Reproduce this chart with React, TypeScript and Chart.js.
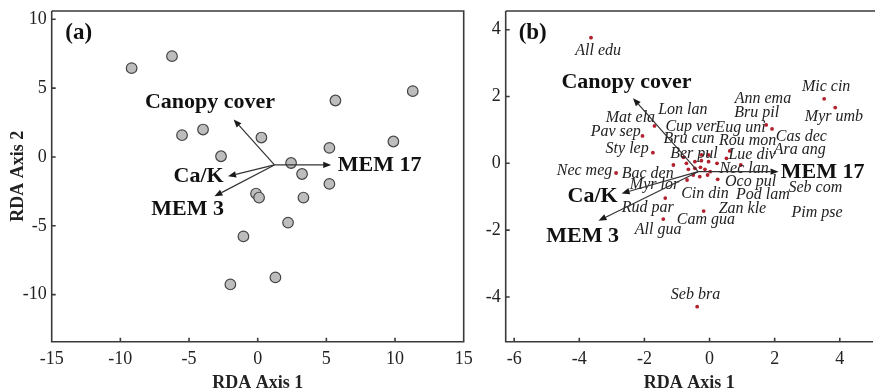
import React, { useEffect, useRef } from 'react';
import { Chart, registerables } from 'chart.js';

Chart.register(...registerables);

const FONT = "'Liberation Serif', 'Times New Roman', serif";
const INK = '#222222';
const AXIS = '#3a3a3a';

// ---------- Panel (a): site scores ----------
const A_X_TICKS = [-15, -10, -5, 0, 5, 10, 15];
const A_Y_TICKS = [-10, -5, 0, 5, 10];
const SITE_X = [-9.18, -6.24, -5.51, -3.98, -2.67, 0.27, 2.43, 3.23, 5.22, 5.66, 11.29, 9.88, 5.22, 3.33, -0.12, 0.1, 2.21, -1.04, 1.29, -1.99];
const SITE_Y = [6.45, 7.32, 1.58, 1.99, 0.05, 1.41, -0.44, -1.24, 0.66, 4.1, 4.78, 1.12, -1.96, -2.95, -2.66, -2.95, -4.77, -5.77, -8.75, -9.26];

const ENV_NAMES = ['Canopy cover', 'MEM 17', 'Ca/K', 'MEM 3'];
const ENV_ALIGN = ['center', 'left', 'center', 'center'];
const A_ENV_ORIGIN = [1.22, -0.58];
const A_ENV_X = [-1.75, 5.35, -2.16, -3.15];
const A_ENV_Y = [2.72, -0.58, -1.4, -2.86];
const A_LABEL_X = [-3.47, 5.83, -4.3, -5.1];
const A_LABEL_Y = [3.96, -0.63, -1.38, -3.83];

// ---------- Panel (b): species scores ----------
const B_X_TICKS = [-6, -4, -2, 0, 2, 4];
const B_Y_TICKS = [-4, -2, 0, 2, 4];
const DOT_X = [-3.64, 3.52, 3.86, -1.69, -2.06, -1.74, -2.87, 1.92, 1.74, -1.36, -1.42, -0.18, -0.38, 0.62, 0.52, 0.96, 0.25,
  -1.11, -0.71, -0.45, -0.25, -0.03, 0.23, -0.65, -0.45, -0.28, -0.14, 0.02, -0.5, -0.3, -0.06, -0.69, -0.25, -0.03, -0.8];
const DOT_Y = [3.76, 1.93, 1.67, 1.12, 0.82, 0.32, -0.29, 1.03, 1.15, -1.04, -1.67, -1.43, -4.29, 0.37, 0.15, -0.05, -0.48,
  -0.05, 0.0, 0.05, 0.08, 0.05, 0.0, -0.18, -0.15, -0.12, -0.18, -0.25, -0.35, -0.4, -0.35, -0.5, 0.25, 0.25, 0.18];

const SPECIES = ['All edu', 'Mic cin', 'Ann ema', 'Myr umb', 'Lon lan', 'Bru pil', 'Mat ela', 'Cup ver', 'Eug uni', 'Pav sep',
  'Cas dec', 'Bru cun', 'Rou mon', 'Sty lep', 'Ara ang', 'Ber pul', 'Lue div', 'Nec meg', 'Nec lan', 'Bac den', 'Myr lor',
  'Oco pul', 'Seb com', 'Cin din', 'Pod lam', 'Rud par', 'Zan kle', 'Pim pse', 'Cam gua', 'All gua', 'Seb bra'];
const SP_LABEL_X = [-3.42, 3.58, 1.64, 3.82, -0.82, 1.45, -2.43, -0.57, 0.95, -2.88, 2.82, -0.63, 1.17, -2.53, 2.77, -0.48,
  1.31, -3.84, 1.06, -1.9, -1.69, 1.26, 3.25, -0.14, 1.64, -1.9, 1.01, 3.3, -0.11, -1.58, -0.43];
const SP_LABEL_Y = [3.37, 2.29, 1.93, 1.38, 1.6, 1.5, 1.35, 1.08, 1.07, 0.93, 0.8, 0.72, 0.68, 0.43, 0.4, 0.28, 0.25, -0.22,
  -0.17, -0.3, -0.63, -0.55, -0.73, -0.9, -0.93, -1.32, -1.37, -1.47, -1.7, -1.98, -3.94];

const B_ENV_ORIGIN = [-0.35, -0.25];
const B_ENV_X = [-2.35, 2.12, -2.7, -3.41];
const B_ENV_Y = [1.95, -0.25, -0.9, -1.72];
const B_LABEL_X = [-2.55, 2.19, -3.59, -3.9];
const B_LABEL_Y = [2.44, -0.27, -1.0, -2.18];

function arrow(ctx: CanvasRenderingContext2D, x0: number, y0: number, x1: number, y1: number) {
  const ang = Math.atan2(y1 - y0, x1 - x0);
  const len = 8;
  const half = 3.2;
  const bx = x1 - len * Math.cos(ang);
  const by = y1 - len * Math.sin(ang);
  ctx.beginPath();
  ctx.moveTo(x0, y0);
  ctx.lineTo(bx, by);
  ctx.stroke();
  ctx.beginPath();
  ctx.moveTo(x1, y1);
  ctx.lineTo(bx + half * Math.sin(ang), by - half * Math.cos(ang));
  ctx.lineTo(bx - half * Math.sin(ang), by + half * Math.cos(ang));
  ctx.closePath();
  ctx.fill();
}

function makeOverlay(opts: any) {
  return {
    id: 'overlay' + opts.tag,
    afterDatasetsDraw(chart: any) {
      const { ctx, chartArea, scales } = chart;
      const { left, right, top, bottom } = chartArea;
      const sx = scales.x;
      const sy = scales.y;
      ctx.save();
      // species labels
      if (opts.spNames) {
        ctx.font = `italic 16px ${FONT}`;
        ctx.fillStyle = INK;
        ctx.textAlign = 'center';
        ctx.textBaseline = 'middle';
        opts.spNames.forEach((n: string, i: number) => {
          ctx.fillText(n, sx.getPixelForValue(opts.spX[i]), sy.getPixelForValue(opts.spY[i]));
        });
      }
      // arrows
      ctx.strokeStyle = '#333';
      ctx.fillStyle = '#1a1a1a';
      ctx.lineWidth = 1.2;
      const ox = sx.getPixelForValue(opts.origin[0]);
      const oy = sy.getPixelForValue(opts.origin[1]);
      opts.envX.forEach((v: number, i: number) => {
        arrow(ctx, ox, oy, sx.getPixelForValue(v), sy.getPixelForValue(opts.envY[i]));
      });
      // env labels
      ctx.font = `bold 22px ${FONT}`;
      ctx.fillStyle = '#111';
      ctx.textBaseline = 'middle';
      ENV_NAMES.forEach((n, i) => {
        ctx.textAlign = ENV_ALIGN[i] as CanvasTextAlign;
        ctx.fillText(n, sx.getPixelForValue(opts.labX[i]), sy.getPixelForValue(opts.labY[i]));
      });
      // panel letter
      ctx.font = `bold 23px ${FONT}`;
      ctx.textAlign = 'center';
      ctx.fillText(opts.letter, left + 27, top + 22);
      // frame
      ctx.strokeStyle = AXIS;
      ctx.lineWidth = 1.6;
      ctx.beginPath();
      ctx.moveTo(left, top);
      ctx.lineTo(left, bottom);
      ctx.lineTo(right, bottom);
      if (opts.rightBorder) {
        ctx.lineTo(right, top);
        ctx.lineTo(left, top);
      } else {
        ctx.moveTo(left, top);
        ctx.lineTo(right + 2, top);
      }
      // inward ticks
      sx.ticks.forEach((t: any) => {
        const px = sx.getPixelForValue(t.value);
        ctx.moveTo(px, bottom);
        ctx.lineTo(px, bottom - 4);
      });
      sy.ticks.forEach((t: any) => {
        const py = sy.getPixelForValue(t.value);
        ctx.moveTo(left, py);
        ctx.lineTo(left + 4, py);
      });
      ctx.stroke();
      ctx.restore();
    },
  };
}

function scaleOpts(min: number, max: number, ticks: number[], axis: 'x' | 'y', fitSize: number, title: string | null) {
  return {
    type: 'linear',
    min,
    max,
    afterBuildTicks: (s: any) => {
      s.ticks = ticks.map((v) => ({ value: v }));
    },
    afterFit: (s: any) => {
      if (axis === 'x') {
        s.height = fitSize;
      } else {
        s.width = fitSize;
      }
      s.paddingLeft = 0;
      s.paddingRight = 0;
      s.paddingTop = 0;
      s.paddingBottom = 0;
    },
    grid: { display: false, drawTicks: false },
    border: { display: false },
    ticks: {
      font: { family: FONT, size: 18 },
      color: INK,
      padding: axis === 'x' ? 6.5 : 5,
      autoSkip: false,
      maxRotation: 0,
      callback: (v: any) => String(v),
    },
    title: title
      ? {
          display: true,
          text: title,
          color: INK,
          font: { family: FONT, size: 18, weight: 'bold' },
          padding: axis === 'x' ? { top: 0, bottom: 6.2 } : { top: 7.2, bottom: 0 },
        }
      : { display: false },
  };
}

function Panel(props: { config: any; left: number; width: number }) {
  const ref = useRef<HTMLCanvasElement>(null);
  useEffect(() => {
    const chart = new Chart(ref.current as HTMLCanvasElement, props.config);
    return () => chart.destroy();
  }, []);
  return (
    <canvas
      ref={ref}
      width={props.width}
      height={400}
      style={{ position: 'absolute', left: props.left, top: 0, width: props.width, height: 400 }}
    />
  );
}

const H = 400;
const BOTTOM = 341.7;

const configA = {
  type: 'scatter',
  data: {
    datasets: [
      {
        data: SITE_X.map((x, i) => ({ x, y: SITE_Y[i] })),
        pointRadius: 5.3,
        pointBackgroundColor: '#bdbdbd',
        pointBorderColor: '#454545',
        pointBorderWidth: 1.2,
      },
    ],
  },
  options: {
    responsive: false,
    animation: false,
    events: [],
    layout: { padding: { top: 11, right: 480 - 463.7, left: 0, bottom: 0 } },
    plugins: { legend: { display: false }, tooltip: { enabled: false } },
    scales: {
      x: scaleOpts(-15, 15, A_X_TICKS, 'x', H - BOTTOM, 'RDA Axis 1'),
      y: scaleOpts(-13.42, 10.6, A_Y_TICKS, 'y', 51.7, 'RDA Axis 2'),
    },
  },
  plugins: [
    makeOverlay({
      tag: 'a',
      letter: '(a)',
      origin: A_ENV_ORIGIN,
      envX: A_ENV_X,
      envY: A_ENV_Y,
      labX: A_LABEL_X,
      labY: A_LABEL_Y,
      rightBorder: true,
    }),
  ],
};

const configB = {
  type: 'scatter',
  data: {
    datasets: [
      {
        data: DOT_X.map((x, i) => ({ x, y: DOT_Y[i] })),
        pointRadius: 1.9,
        pointBackgroundColor: '#b3202e',
        pointBorderWidth: 0,
      },
    ],
  },
  options: {
    responsive: false,
    animation: false,
    events: [],
    layout: { padding: { top: 11, right: 0, left: 0, bottom: 0 } },
    plugins: { legend: { display: false }, tooltip: { enabled: false } },
    scales: {
      x: scaleOpts(-6.26, 5.02, B_X_TICKS, 'x', H - BOTTOM, 'RDA Axis 1'),
      y: scaleOpts(-5.34, 4.56, B_Y_TICKS, 'y', 505.7 - 465, null),
    },
  },
  plugins: [
    makeOverlay({
      tag: 'b',
      letter: '(b)',
      origin: B_ENV_ORIGIN,
      envX: B_ENV_X,
      envY: B_ENV_Y,
      labX: B_LABEL_X,
      labY: B_LABEL_Y,
      spNames: SPECIES,
      spX: SP_LABEL_X,
      spY: SP_LABEL_Y,
      rightBorder: false,
    }),
  ],
};

export default function App() {
  return (
    <div
      style={{
        position: 'fixed',
        left: 0,
        top: 0,
        width: 877,
        height: 390,
        overflow: 'hidden',
        background: '#ffffff',
      }}
    >
      <Panel config={configA} left={0} width={480} />
      <Panel config={configB} left={465} width={412} />
    </div>
  );
}
